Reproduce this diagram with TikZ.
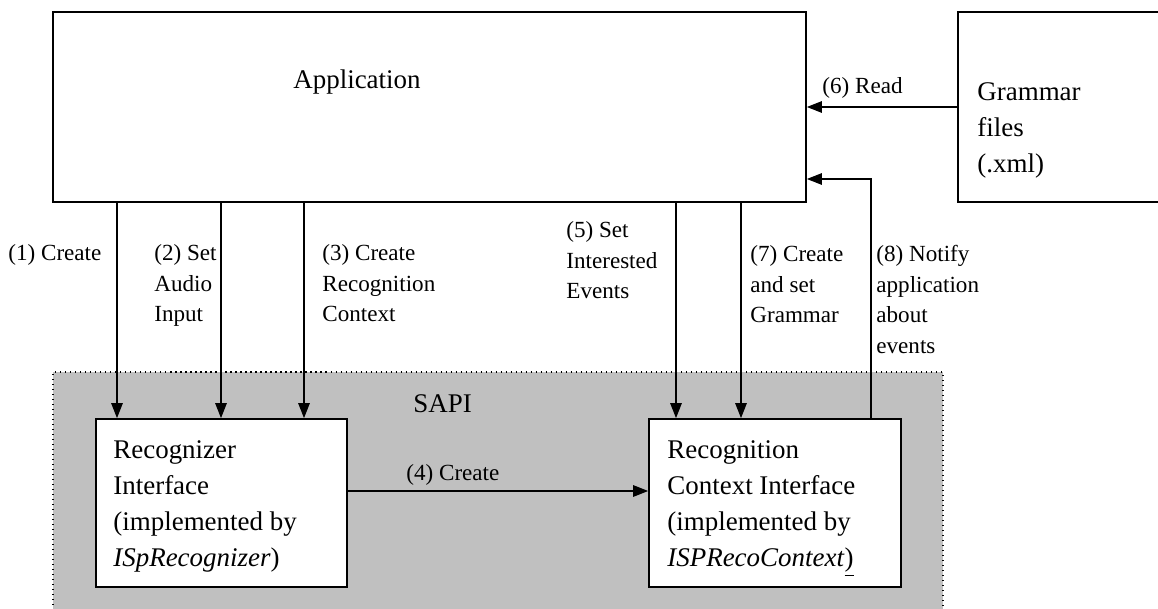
\documentclass[tikz,border=0pt]{standalone}
\usepackage{fontspec}
\setmainfont{Liberation Serif}
\usepackage{xcolor}
\usepackage{tikz}
\usetikzlibrary{arrows.meta,positioning,calc}
\definecolor{sapigray}{RGB}{192,192,192}
\tikzset{
  box/.style={draw,line width=0.9pt,fill=white,inner sep=0pt},
  txt/.style={anchor=north west,inner sep=0pt,align=left,font=\fontsize{14}{18.8}\selectfont},
  lbl/.style={anchor=north west,inner sep=0pt,align=left,font=\fontsize{12}{16}\selectfont},
  arr/.style={-{Triangle[length=7.8pt,width=6pt]},line width=0.6pt},
}
\begin{document}
\begin{tikzpicture}[x=0.5195pt,y=-0.5195pt]
\useasboundingbox (0,0) rectangle (1158,609);
\fill[sapigray] (53,372) rectangle (943,615);
\draw[dotted,line width=0.6pt] (53,615) |- (943,372) -- (943,615);
\node[box,minimum width=391.2pt,minimum height=98.7pt] (app) at (429.5,107) {};
\node[box,minimum width=112.7pt,minimum height=98.7pt] (gram) at (1066.5,107) {};
\node[box,minimum width=130.4pt,minimum height=87.3pt] (rz) at (221.5,503) {};
\node[box,minimum width=130.9pt,minimum height=87.3pt] (rc) at (775,503) {};
\node[txt] (apptxt) at (293,62.7) {\strut Application};
\node[txt] (gramtxt) at (977,74.7) {\strut Grammar\\files\\(.xml)};
\node[txt] (sapitxt) at (413,386.7) {\strut SAPI};
\node[txt] (rztxt) at (113,432.7) {\strut Recognizer\\Interface\\(implemented by\\\textit{ISpRecognizer})};
\node[txt] (rctxt) at (667,432.7) {\strut Recognition\\Context Interface\\(implemented by\\\textit{ISPRecoContext}\underline{)}};
\node[lbl] (l1) at (8,238.4) {\strut(1) Create};
\node[lbl] (l2) at (154,238.4) {\strut(2) Set\\Audio\\Input};
\node[lbl] (l3) at (322,238.4) {\strut(3) Create\\Recognition\\Context};
\node[lbl] (l4) at (406,458.4) {\strut(4) Create};
\node[lbl] (l5) at (566,215.4) {\strut(5) Set\\Interested\\Events};
\node[lbl] (l6) at (822,71.4) {\strut(6) Read};
\node[lbl] (l7) at (750,239.4) {\strut(7) Create\\and set\\Grammar};
\node[lbl] (l8) at (876,239.4) {\strut(8) Notify\\application\\about\\events};
\foreach \xx in {117,221,304} \draw[arr] (\xx,0 |- app.south) -- (\xx,0 |- rz.north);
\foreach \xx in {676,741} \draw[arr] (\xx,0 |- app.south) -- (\xx,0 |- rc.north);
\draw[arr] (rz.east |- 0,491) -- (rc.west |- 0,491);
\draw[arr] (gram.west) -- (app.east);
\draw[arr] (871,0 |- rc.north) |- (app.east |- 0,179);
\end{tikzpicture}
\end{document}
